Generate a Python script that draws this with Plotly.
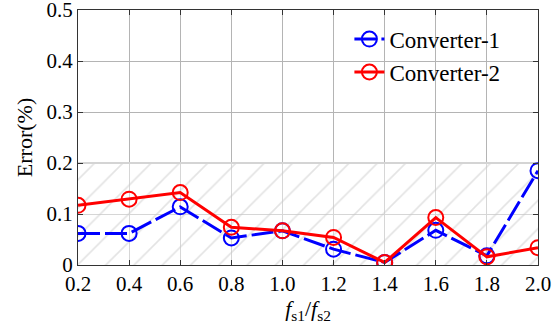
import plotly.graph_objects as go

ratio = [0.2, 0.4, 0.6, 0.8, 1.0, 1.2, 1.4, 1.6, 1.8, 2.0]
conv1 = [0.062, 0.062, 0.114, 0.053, 0.067, 0.031, 0.005, 0.068, 0.018, 0.185]
conv2 = [0.117, 0.129, 0.142, 0.074, 0.067, 0.054, 0.005, 0.093, 0.016, 0.034]
threshold = 0.2
x_ticks = [0.2, 0.4, 0.6, 0.8, 1.0, 1.2, 1.4, 1.6, 1.8, 2.0]
x_labels = ["0.2", "0.4", "0.6", "0.8", "1.0", "1.2", "1.4", "1.6", "1.8", "2.0"]
y_ticks = [0, 0.1, 0.2, 0.3, 0.4, 0.5]
y_labels = ["0", "0.1", "0.2", "0.3", "0.4", "0.5"]

font = "Liberation Serif"
fig = go.Figure()

fig.add_trace(go.Scatter(
    x=[ratio[0], ratio[-1]], y=[threshold, threshold],
    mode="lines", fill="tozeroy",
    line=dict(color="#d4d4d4", width=2),
    fillcolor="rgba(255,255,255,0.45)",
    fillpattern=dict(shape="/", fgcolor="#c8c8c8", bgcolor="rgba(255,255,255,0.45)",
                     size=20, solidity=0.08),
    showlegend=False, hoverinfo="skip"))

fig.add_trace(go.Scatter(
    x=ratio, y=conv1, mode="lines+markers", name="Converter-1",
    line=dict(color="#0000ff", width=3, dash="22px,5px"),
    marker=dict(symbol="circle-open", size=15, color="#0000ff", line=dict(width=2))))
fig.add_trace(go.Scatter(
    x=ratio, y=conv2, mode="lines+markers", name="Converter-2",
    line=dict(color="#ff0000", width=3),
    marker=dict(symbol="circle-open", size=15, color="#ff0000", line=dict(width=2))))

tickfont = dict(family=font, size=21, color="black")
fig.update_layout(
    width=556, height=326,
    margin=dict(l=78, r=18, t=10, b=61, autoexpand=False),
    plot_bgcolor="white", paper_bgcolor="white",
    font=dict(family=font, size=21, color="black"),
    legend=dict(x=0.59, y=0.97, xanchor="left", yanchor="top",
                bgcolor="rgba(0,0,0,0)", font=dict(family=font, size=23),
                itemwidth=30, tracegroupgap=0),
    xaxis=dict(range=[0.2, 2.0], tickvals=x_ticks, ticktext=x_labels,
               tickfont=tickfont, automargin=False, ticklabeloverflow="allow",
               showgrid=True, gridcolor="#b4b4b4", gridwidth=1,
               showline=True, linecolor="#333333", linewidth=1, mirror="ticks",
               ticks="inside", ticklen=5, tickcolor="#333333",
               zeroline=False,
               title=dict(text="<i>f</i><sub>s1</sub>/<i>f</i><sub>s2</sub>",
                          font=dict(family=font, size=22), standoff=0)),
    yaxis=dict(range=[0, 0.5], tickvals=y_ticks, ticktext=y_labels,
               tickfont=tickfont, automargin=False, ticklabeloverflow="allow",
               showgrid=True, gridcolor="#b4b4b4", gridwidth=1,
               showline=True, linecolor="#333333", linewidth=1, mirror="ticks",
               ticks="inside", ticklen=5, tickcolor="#333333",
               zeroline=False,
               title=dict(text="Error(%)", font=dict(family=font, size=22), standoff=7)),
)

fig.write_html("out.html", config={"displayModeBar": False},
               post_script="document.body.style.margin='0';")
